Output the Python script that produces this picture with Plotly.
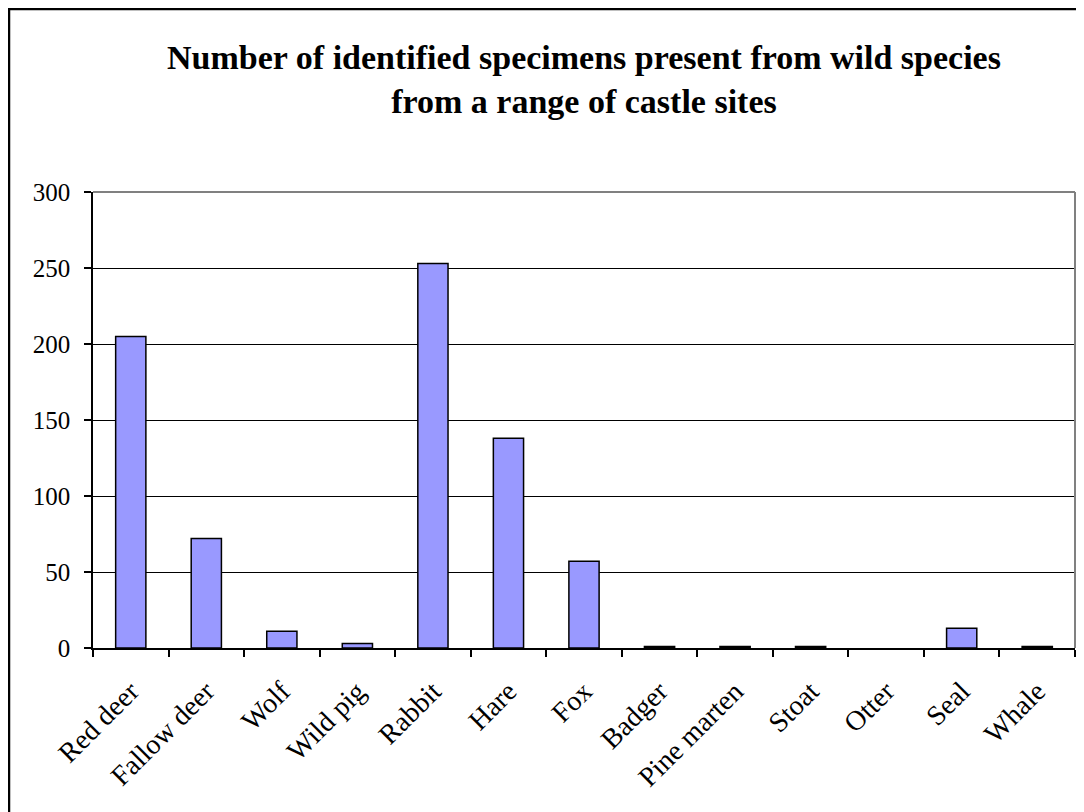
import plotly.graph_objects as go

species = ["Red deer", "Fallow deer", "Wolf", "Wild pig", "Rabbit", "Hare", "Fox",
           "Badger", "Pine marten", "Stoat", "Otter", "Seal", "Whale"]
nisp = [205, 72, 11, 3, 253, 138, 57, 1, 1, 1, 0, 13, 1]
y_ticks = [0, 50, 100, 150, 200, 250, 300]

# page is drawn with an 8px body margin, so work in figure coordinates
W, H = 1076, 804
L, R, T, B = 85, 9, 184, 164
pw, ph = W - L - R, H - T - B

fig = go.Figure(go.Bar(
    x=species, y=nisp,
    marker=dict(color="#9999FF",
                line=dict(color="black", width=[1.5 if v > 0 else 0 for v in nisp])),
))

serif = "Liberation Serif, Times New Roman, serif"
fig.update_layout(
    width=W, height=H,
    margin=dict(l=L, r=R, t=T, b=B),
    paper_bgcolor="white", plot_bgcolor="white",
    bargap=0.6,
    showlegend=False,
    font=dict(family=serif, color="black", size=25),
    title=dict(
        text="<b>Number of identified specimens present from wild species<br>from a range of castle sites</b>",
        x=0.5, xanchor="center", xref="paper",
        y=1 - 61 / H, yanchor="middle", yref="container",
        font=dict(family=serif, size=34, color="black"),
    ),
    xaxis=dict(
        type="category",
        tickangle=-45,
        ticks="outside", ticklen=7, tickcolor="black", tickwidth=1.5,
        tickson="boundaries",
        showline=True, linecolor="black", linewidth=1.5,
        showgrid=False,
        tickfont=dict(family=serif, size=28),
        ticklabelstandoff=14,
    ),
    yaxis=dict(
        range=[0, 300], tickvals=y_ticks,
        ticks="outside", ticklen=7, tickcolor="black", tickwidth=1.5,
        showline=True, linecolor="black", linewidth=1.5,
        showgrid=True, gridcolor="black", gridwidth=1.3,
        zeroline=False,
        tickfont=dict(family=serif, size=25),
        ticklabelstandoff=9,
    ),
    shapes=[
        dict(type="line", xref="paper", yref="paper", x0=0, x1=1, y0=1, y1=1,
             line=dict(color="#808080", width=2)),
        dict(type="line", xref="paper", yref="paper", x0=1, x1=1, y0=0, y1=1,
             line=dict(color="#808080", width=2)),
        dict(type="rect", xref="paper", yref="paper",
             x0=(1 - L) / pw, x1=(W + 20 - L) / pw,
             y0=-(B + 20) / ph, y1=1 + (T - 1) / ph,
             line=dict(color="black", width=2.5), layer="above"),
    ],
)

fig.write_html("out.html")
